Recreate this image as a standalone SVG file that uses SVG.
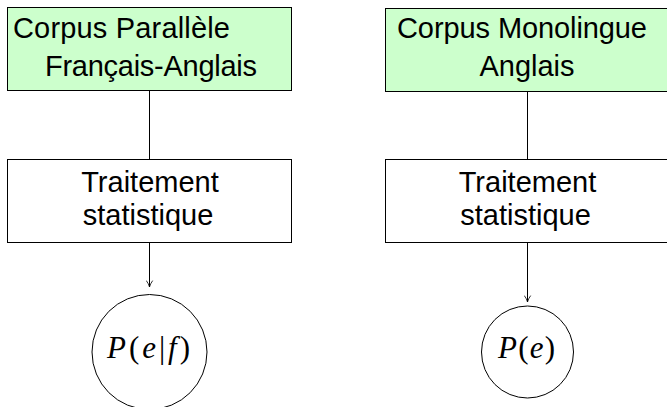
<svg xmlns="http://www.w3.org/2000/svg" width="667" height="407" viewBox="0 0 667 407">
<defs>
<style>
.box{stroke:#000;stroke-width:1}
.g{fill:#ccffcc}
.w{fill:#fff}
.t{font-family:"Liberation Sans",Arial,sans-serif;font-size:29px;fill:#000}
.m{font-family:"Liberation Serif","Times New Roman",serif;font-size:31px;fill:#000}
.c{fill:#fff;stroke:#000;stroke-width:1}
.e{stroke:#000;stroke-width:1;fill:none}
</style>
<marker id="arr" viewBox="0 0 10 10" refX="9" refY="5" markerWidth="8" markerHeight="8" markerUnits="userSpaceOnUse" orient="auto">
<path d="M1,1 Q5,4 9,5 Q5,6 1,9" fill="none" stroke="#000" stroke-width="1"/>
</marker>
</defs>
<rect width="667" height="407" fill="#fff"/>
<g id="connectors">
<line class="e" x1="149.5" y1="90" x2="149.5" y2="159"/>
<line class="e" x1="149.5" y1="242" x2="149.5" y2="287" marker-end="url(#arr)"/>
<line class="e" x1="527.5" y1="91" x2="527.5" y2="159"/>
<line class="e" x1="527.5" y1="242" x2="527.5" y2="302" marker-end="url(#arr)"/>
</g>
<g id="corpus-parallele">
<rect class="box g" x="7.5" y="7.5" width="284" height="83"/>
<text class="t" x="13" y="38" textLength="217">Corpus Parallèle</text>
<text class="t" x="45" y="76" textLength="212">Français-Anglais</text>
</g>
<g id="corpus-monolingue">
<rect class="box g" x="385.5" y="8.5" width="290" height="83"/>
<text class="t" x="397" y="38" textLength="250">Corpus Monolingue</text>
<text class="t" x="527" y="76" text-anchor="middle">Anglais</text>
</g>
<g id="traitement-gauche">
<rect class="box w" x="7.5" y="159.5" width="284" height="83"/>
<text class="t" x="150" y="192" text-anchor="middle">Traitement</text>
<text class="t" x="148" y="225" text-anchor="middle">statistique</text>
</g>
<g id="traitement-droite">
<rect class="box w" x="385.5" y="159.5" width="290" height="83"/>
<text class="t" x="527.5" y="192" text-anchor="middle">Traitement</text>
<text class="t" x="525.5" y="225" text-anchor="middle">statistique</text>
</g>
<g id="p-e-f">
<circle class="c" cx="149.5" cy="352" r="57.5"/>
<text class="m" x="107" y="358" textLength="83" lengthAdjust="spacing"><tspan font-style="italic">P</tspan>(<tspan font-style="italic">e</tspan>|<tspan font-style="italic">f</tspan>)</text>
</g>
<g id="p-e">
<circle class="c" cx="527.5" cy="352" r="46"/>
<text class="m" x="498" y="358" textLength="57" lengthAdjust="spacing"><tspan font-style="italic">P</tspan>(<tspan font-style="italic">e</tspan>)</text>
</g>
</svg>
